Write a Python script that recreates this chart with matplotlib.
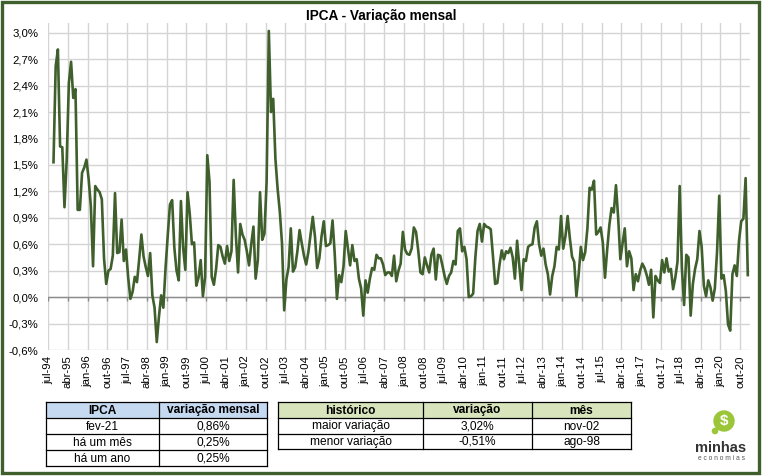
import numpy as np
import matplotlib.pyplot as plt
from matplotlib.patches import Rectangle, Circle

plt.rcParams['font.family'] = ['Liberation Sans', 'DejaVu Sans']

meses = ['jan', 'fev', 'mar', 'abr', 'mai', 'jun', 'jul', 'ago', 'set', 'out', 'nov', 'dez']

# IPCA, variação mensal (%) - a série começa em set-94
ipca_1994 = [1.53, 2.62, 2.81, 1.71]
ipca_1995 = [1.70, 1.02, 1.55, 2.43, 2.67, 2.26, 2.36, 0.99, 0.99, 1.41, 1.47, 1.56]
ipca_1996 = [1.34, 1.03, 0.35, 1.26, 1.22, 1.19, 1.11, 0.44, 0.15, 0.30, 0.32, 0.47]
ipca_1997 = [1.18, 0.50, 0.51, 0.88, 0.41, 0.54, 0.22, -0.02, 0.06, 0.23, 0.17, 0.43]
ipca_1998 = [0.71, 0.46, 0.34, 0.24, 0.50, 0.02, -0.12, -0.51, -0.22, 0.02, -0.12, 0.33]
ipca_1999 = [0.70, 1.05, 1.10, 0.56, 0.30, 0.19, 1.09, 0.56, 0.31, 1.19, 0.95, 0.60]
ipca_2000 = [0.62, 0.13, 0.22, 0.42, 0.01, 0.23, 1.61, 1.31, 0.23, 0.14, 0.32, 0.59]
ipca_2001 = [0.57, 0.46, 0.38, 0.58, 0.41, 0.52, 1.33, 0.70, 0.28, 0.83, 0.71, 0.65]
ipca_2002 = [0.52, 0.36, 0.60, 0.80, 0.21, 0.42, 1.19, 0.65, 0.72, 1.31, 3.02, 2.10]
ipca_2003 = [2.25, 1.57, 1.23, 0.97, 0.61, -0.15, 0.20, 0.34, 0.78, 0.29, 0.34, 0.52]
ipca_2004 = [0.76, 0.61, 0.47, 0.37, 0.51, 0.71, 0.91, 0.69, 0.33, 0.44, 0.69, 0.86]
ipca_2005 = [0.58, 0.59, 0.61, 0.87, 0.49, -0.02, 0.25, 0.17, 0.35, 0.75, 0.55, 0.36]
ipca_2006 = [0.59, 0.41, 0.43, 0.21, 0.10, -0.21, 0.19, 0.05, 0.21, 0.33, 0.31, 0.48]
ipca_2007 = [0.44, 0.44, 0.37, 0.25, 0.28, 0.28, 0.24, 0.47, 0.18, 0.30, 0.38, 0.74]
ipca_2008 = [0.54, 0.49, 0.48, 0.55, 0.79, 0.74, 0.53, 0.28, 0.26, 0.45, 0.36, 0.28]
ipca_2009 = [0.48, 0.55, 0.20, 0.48, 0.47, 0.36, 0.24, 0.15, 0.24, 0.28, 0.41, 0.37]
ipca_2010 = [0.75, 0.78, 0.52, 0.57, 0.43, 0.00, 0.01, 0.04, 0.45, 0.75, 0.83, 0.63]
ipca_2011 = [0.83, 0.80, 0.79, 0.77, 0.47, 0.15, 0.16, 0.37, 0.53, 0.43, 0.52, 0.50]
ipca_2012 = [0.56, 0.45, 0.21, 0.64, 0.36, 0.08, 0.43, 0.41, 0.57, 0.59, 0.60, 0.79]
ipca_2013 = [0.86, 0.60, 0.47, 0.55, 0.37, 0.26, 0.03, 0.24, 0.35, 0.57, 0.54, 0.92]
ipca_2014 = [0.55, 0.69, 0.92, 0.67, 0.46, 0.40, 0.01, 0.25, 0.57, 0.42, 0.51, 0.78]
ipca_2015 = [1.24, 1.22, 1.32, 0.71, 0.74, 0.79, 0.62, 0.22, 0.54, 0.82, 1.01, 0.96]
ipca_2016 = [1.27, 0.90, 0.43, 0.61, 0.78, 0.35, 0.52, 0.44, 0.08, 0.26, 0.18, 0.30]
ipca_2017 = [0.38, 0.33, 0.25, 0.14, 0.31, -0.23, 0.24, 0.19, 0.16, 0.42, 0.28, 0.44]
ipca_2018 = [0.29, 0.32, 0.09, 0.22, 0.40, 1.26, 0.33, -0.09, 0.48, 0.45, -0.21, 0.15]
ipca_2019 = [0.32, 0.43, 0.75, 0.57, 0.13, 0.01, 0.19, 0.11, -0.04, 0.10, 0.51, 1.15]
ipca_2020 = [0.21, 0.25, 0.07, -0.31, -0.38, 0.26, 0.36, 0.24, 0.64, 0.86, 0.89, 1.35]
ipca_2021 = [0.25]

ipca = (ipca_1994 + ipca_1995 + ipca_1996 + ipca_1997 + ipca_1998 + ipca_1999
        + ipca_2000 + ipca_2001 + ipca_2002 + ipca_2003 + ipca_2004 + ipca_2005
        + ipca_2006 + ipca_2007 + ipca_2008 + ipca_2009 + ipca_2010 + ipca_2011
        + ipca_2012 + ipca_2013 + ipca_2014 + ipca_2015 + ipca_2016 + ipca_2017
        + ipca_2018 + ipca_2019 + ipca_2020 + ipca_2021)

# eixo de categorias: jul-94 .. jan-21
categorias = []
for ano in range(1994, 2022):
    for m, nome in enumerate(meses):
        if (ano == 1994 and m < 6) or (ano == 2021 and m > 0):
            continue
        categorias.append(f'{nome}-{str(ano)[2:]}')
inicio = categorias.index('set-94')

# tabelas do rodapé
tab1_cab = ['IPCA', 'variação mensal']
tab1_linhas = [['fev-21', '0,86%'], ['há um mês', '0,25%'], ['há um ano', '0,25%']]
tab2_cab = ['histórico', 'variação', 'mês']
i_max = int(np.argmax(ipca))
i_min = int(np.argmin(ipca))
tab2_linhas = [['maior variação', f'{ipca[i_max]:.2f}%'.replace('.', ','), categorias[inicio + i_max]],
               ['menor variação', f'{ipca[i_min]:.2f}%'.replace('.', ','), categorias[inicio + i_min]]]

verde = '#3f5f2c'
W, H = 762, 476

fig = plt.figure(figsize=(W / 100, H / 100), dpi=100)
ax = fig.add_axes([48 / W, 1 - 350 / H, (750 - 48) / W, (350 - 23) / H])

x = np.arange(len(ipca)) + inicio + 0.5
ax.plot(x, ipca, color=verde, lw=1.9, zorder=3)

ticks = np.arange(0, len(categorias), 9)
ax.set_xticks(ticks)
ax.set_xticklabels([categorias[t] for t in ticks], rotation=90, fontsize=8.2)
ax.set_xlim(0, 319.5)
ax.set_ylim(-0.6, 3.11)
yt = np.arange(-0.6, 3.01, 0.3)
ax.set_yticks(yt)
ax.set_yticklabels([f'{v:.1f}%'.replace('.', ',').replace('-0,0', '0,0') for v in yt], fontsize=8.2)
ax.tick_params(length=0)
ax.tick_params(axis='y', pad=7)
ax.tick_params(axis='x', pad=4)
ax.grid(True, color='#d4d4d4', lw=1)
ax.set_axisbelow(True)
for s in ax.spines.values():
    s.set_visible(False)
ax.axhline(0, color='#8c8c8c', lw=1, zorder=2)
ax.vlines(ticks, -0.045, 0, color='#8c8c8c', lw=1, zorder=2)

fig.text(381 / W, 1 - 16 / H, 'IPCA - Variação mensal', ha='center', va='center',
         fontsize=9.8, fontweight='bold')

# camada em pixels para tabelas, logo e moldura
ov = fig.add_axes([0, 0, 1, 1], zorder=5)
ov.set_xlim(0, W)
ov.set_ylim(H, 0)
ov.axis('off')
ov.patch.set_alpha(0)


def tabela(cab, linhas, xs, ys, cor):
    ov.add_patch(Rectangle((xs[0], ys[0]), xs[-1] - xs[0], ys[1] - ys[0],
                           facecolor=cor, edgecolor='none'))
    for yy in ys:
        ov.plot([xs[0], xs[-1]], [yy, yy], color='black', lw=0.9)
    for xx in xs:
        ov.plot([xx, xx], [ys[0], ys[-1]], color='black', lw=0.9)
    for r, linha in enumerate([cab] + linhas):
        for c, txt in enumerate(linha):
            ov.text((xs[c] + xs[c + 1]) / 2, (ys[r] + ys[r + 1]) / 2 + 0.5, txt,
                    ha='center', va='center', fontsize=8.6,
                    fontweight='bold' if r == 0 else 'normal')


tabela(tab1_cab, tab1_linhas, [46, 159, 267], [402, 418, 434, 450, 466], '#c5d9f1')
tabela(tab2_cab, tab2_linhas, [278, 423, 532, 631], [402, 418, 434, 449], '#d8e4bc')

# logo
ov.add_patch(Circle((724, 421), 10, color='#9cc63a'))
ov.add_patch(Circle((715, 431), 2.6, color='#9cc63a'))
ov.text(724, 421.5, '$', ha='center', va='center', color='white', fontsize=11, fontweight='bold')
ov.text(721, 448, 'minhas', ha='center', va='center', color='#333333', fontsize=10.5,
        fontweight='bold')
ov.text(721, 459, 'e c o n o m i a s', ha='center', va='center', color='#555555', fontsize=4.8)

# moldura
ov.add_patch(Rectangle((2, 1.5), 757, 471, fill=False, edgecolor=verde, lw=2.4))

fig.savefig('out.png', dpi=100)
